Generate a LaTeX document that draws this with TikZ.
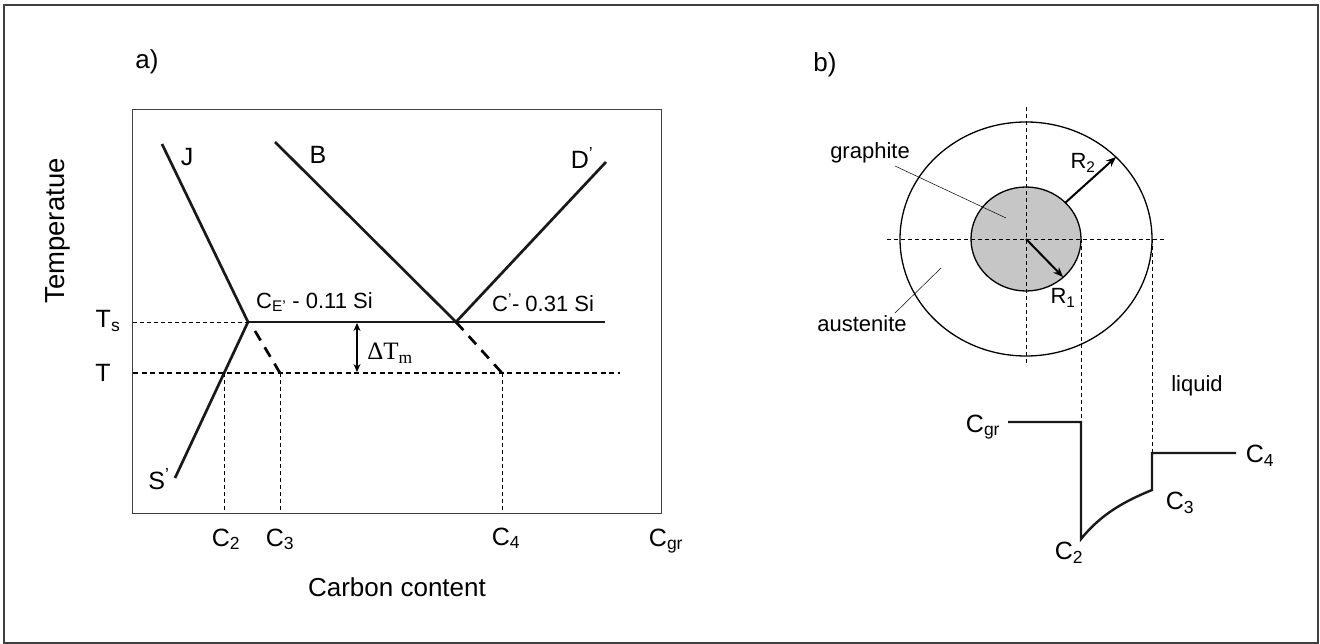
\documentclass[tikz,border=0pt]{standalone}
\usepackage{fontspec}
\setmainfont{Liberation Sans}
\newfontfamily\serifgreek{Liberation Serif}
\usetikzlibrary{positioning,arrows.meta}

\begin{document}
\begin{tikzpicture}[
  x=1pt, y=-1pt,
  frame/.style={draw=black!75, line width=1.2pt},
  plotbox/.style={draw=black!75, line width=1pt},
  curve/.style={line width=2.7pt, black!90},
  guide/.style={line width=0.9pt, dash pattern=on 4pt off 3pt},
  isotherm/.style={line width=1.5pt, dash pattern=on 5pt off 3.5pt},
  extrap/.style={line width=2.7pt, dash pattern=on 11pt off 8pt},
  lbl/.style={font=\fontsize{22}{26}\selectfont, inner sep=0pt},
  letterlbl/.style={font=\fontsize{25}{29}\selectfont, inner sep=0pt},
  biglbl/.style={font=\fontsize{26}{30}\selectfont, inner sep=0pt},
  leader/.style={line width=0.5pt},
  radarrow/.style={line width=2pt, -{Stealth[length=10pt, width=8pt]}},
  gap/.style={line width=1.8pt, {Stealth[length=8pt, width=7pt]}-{Stealth[length=8pt, width=7pt]}}
]

\useasboundingbox (0,0) rectangle (1320,644);
\draw[frame] (4,5) rectangle (1318,643);

% a) phase diagram
\node[biglbl] (atag) at (147,62) {a)};
\draw[plotbox] (132,110) rectangle (661,513);

\coordinate (J) at (162,144);
\coordinate (E) at (248,322);
\coordinate (S) at (175,478);
\coordinate (B) at (275,142);
\coordinate (C) at (456,322);
\coordinate (D) at (606,162);
\coordinate (Tsleft) at (133,322);
\coordinate (Tsright) at (605,322);
\coordinate (Tleft) at (133,373);
\coordinate (Tright) at (620,373);
\coordinate (Eext) at (255,331);
\coordinate (x3) at (280,373);
\coordinate (x4) at (502,373);
\coordinate (x2) at (224,373);

\draw[curve] (J) -- (E) -- (S);
\draw[curve] (B) -- (C) -- (D);
\draw[curve] (E) -- (Tsright);
\draw[guide] (Tsleft) -- (E);
\draw[isotherm] (Tleft) -- (Tright);
\draw[extrap] (Eext) -- (x3);
\draw[extrap] (C) -- (x4);
\draw[guide] (x2) -- (224,513);
\draw[guide] (x3) -- (280,513);
\draw[guide] (x4) -- (502,513);
\draw[gap] (357,323) -- (357,372);

\node[letterlbl] (Jlbl) at (187,157) {J};
\node[letterlbl] (Blbl) at (318,155) {B};
\node[letterlbl] (Dlbl) at (582,158) {D\textsuperscript{'}};
\node[letterlbl] (Slbl) at (159,479) {S\textsuperscript{'}};
\node[lbl, anchor=west] (CEl) at (256,302) {C\textsubscript{E'} - 0.11 Si};
\node[lbl, anchor=west] (Cpl) at (492,303) {C\textsuperscript{'}- 0.31 Si};
\node[letterlbl] (Tslbl) at (108,321) {T\textsubscript{s}};
\node[letterlbl] (Tlbl) at (103,373) {T};
\node[font=\serifgreek\fontsize{25}{28}\selectfont, inner sep=0pt] (dT) at (390,353) {ΔT\textsubscript{m}};
\node[letterlbl, anchor=base] (C2a) at (226,546) {C\textsubscript{2}};
\node[letterlbl, anchor=base] (C3a) at (280,546) {C\textsubscript{3}};
\node[letterlbl, anchor=base] (C4a) at (506,545) {C\textsubscript{4}};
\node[letterlbl, anchor=base] (Cgra) at (666,546) {C\textsubscript{gr}};
\node[biglbl, font=\fontsize{27.5}{31}\selectfont, rotate=90] (ylbl) at (58,231) {Temperatue};
\node[biglbl] (xlbl) at (397,587) {Carbon content};

% b) graphite nodule in austenite shell
\node[biglbl] (btag) at (825,65) {b)};
\coordinate (O) at (1026,239);
\draw[line width=1.3pt] (O) ellipse [x radius=126, y radius=117];
\filldraw[fill=gray!45, line width=1.3pt] (O) ellipse [x radius=55, y radius=52];
\draw[guide] (887,239) -- (1165,239);
\draw[guide] (1026,107) -- (1026,366);
\draw[guide] (1081,239) -- (1081,422);
\draw[guide] (1152,239) -- (1152,452);
\draw[radarrow] (O) -- (1063,277);
\draw[radarrow] (1065,203) -- (1116,157);

\node[lbl] (R1) at (1063,298) {R\textsubscript{1}};
\node[lbl] (R2) at (1083,163) {R\textsubscript{2}};
\node[lbl] (graphite) at (870,153) {graphite};
\node[lbl] (austenite) at (862,324) {austenite};
\node[lbl] (liquid) at (1197,386) {liquid};
\draw[leader] (895,166) -- (1006,218);
\draw[leader] (895,313) -- (941,268);

% concentration profile
\draw[curve, line width=2.4pt, line join=miter] (1008,422) -- (1081,422) -- (1081,539)
  .. controls (1101,514) and (1125,501) .. (1152,490) -- (1152,453) -- (1236,453);
\node[letterlbl] (Cgrb) at (983,427) {C\textsubscript{gr}};
\node[letterlbl] (C4b) at (1260,456) {C\textsubscript{4}};
\node[letterlbl] (C3b) at (1180,503) {C\textsubscript{3}};
\node[letterlbl] (C2b) at (1069,553) {C\textsubscript{2}};

\end{tikzpicture}
\end{document}
